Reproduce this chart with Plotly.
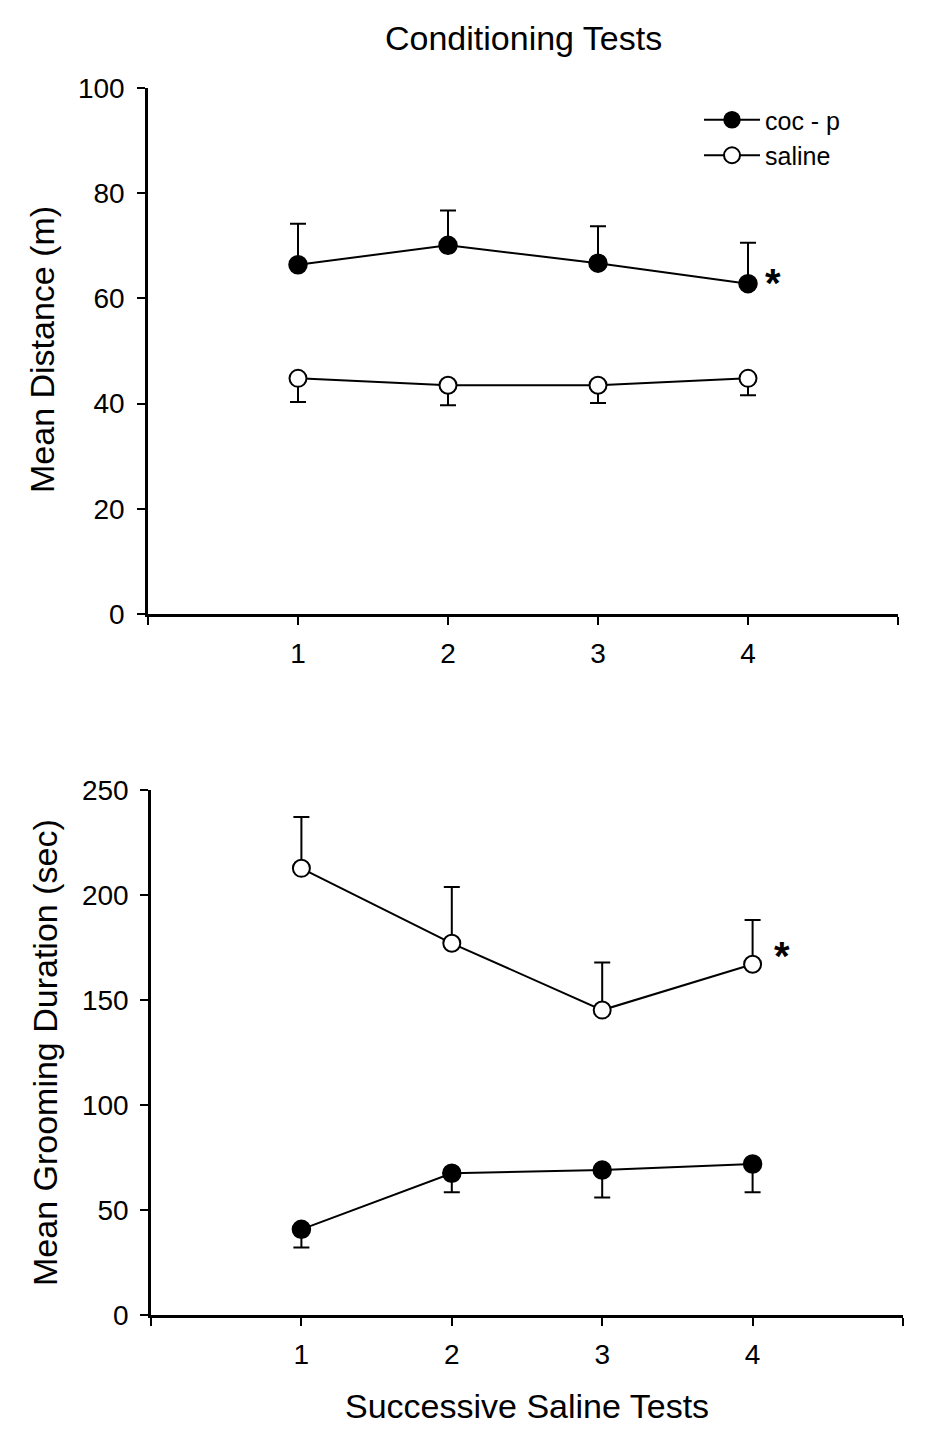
import plotly.graph_objects as go

# ---------------- data ----------------
tests = [1, 2, 3, 4]
x_tickvals = [0, 1, 2, 3, 4, 5]
x_ticktext = ["", "1", "2", "3", "4", ""]

# Top panel: Mean Distance (m)
dist_coc = [66.4, 70.1, 66.7, 62.8]
dist_coc_err = [7.8, 6.6, 7.0, 7.8]        # upward SEM
dist_sal = [44.8, 43.5, 43.5, 44.8]
dist_sal_err = [4.5, 3.8, 3.4, 3.2]        # downward SEM
dist_yticks = [0, 20, 40, 60, 80, 100]

# Bottom panel: Mean Grooming Duration (sec)
groom_sal = [212.7, 177.0, 145.2, 167.0]
groom_sal_err = [24.4, 26.8, 22.6, 21.1]   # upward SEM
groom_coc = [40.8, 67.5, 69.0, 71.9]
groom_coc_err = [8.6, 9.1, 13.1, 13.5]     # downward SEM
groom_yticks = [0, 50, 100, 150, 200, 250]

zeros = [0, 0, 0, 0]

FONT = "Arial, 'Liberation Sans', sans-serif"
W, H = 933, 1448

def px_x(p):
    return p / W

def px_y(p):
    return 1 - p / H

fig = go.Figure()

marker_filled = dict(symbol="circle", size=18, color="black", line=dict(color="black", width=1.5))
marker_open = dict(symbol="circle", size=17, color="white", line=dict(color="black", width=2))
line_style = dict(color="black", width=2)

# top panel
fig.add_trace(go.Scatter(
    x=tests, y=dist_coc, mode="lines+markers", name="coc - p",
    marker=marker_filled, line=line_style, legendgroup="a",
    error_y=dict(type="data", symmetric=False, array=dist_coc_err, arrayminus=zeros,
                 color="black", thickness=2, width=8),
    xaxis="x", yaxis="y"))
fig.add_trace(go.Scatter(
    x=tests, y=dist_sal, mode="lines+markers", name="saline",
    marker=marker_open, line=line_style, legendgroup="b",
    error_y=dict(type="data", symmetric=False, array=zeros, arrayminus=dist_sal_err,
                 color="black", thickness=2, width=8),
    xaxis="x", yaxis="y"))

# bottom panel
fig.add_trace(go.Scatter(
    x=tests, y=groom_sal, mode="lines+markers", name="saline", showlegend=False,
    marker=marker_open, line=line_style,
    error_y=dict(type="data", symmetric=False, array=groom_sal_err, arrayminus=zeros,
                 color="black", thickness=2, width=8),
    xaxis="x2", yaxis="y2"))
fig.add_trace(go.Scatter(
    x=tests, y=groom_coc, mode="lines+markers", name="coc - p", showlegend=False,
    marker=marker_filled, line=line_style,
    error_y=dict(type="data", symmetric=False, array=zeros, arrayminus=groom_coc_err,
                 color="black", thickness=2, width=8),
    xaxis="x2", yaxis="y2"))

axis_common = dict(showline=True, linecolor="black", linewidth=2.5, showgrid=False,
                   zeroline=False, ticks="outside", ticklen=8, tickwidth=2, tickcolor="black",
                   automargin=False,
                   tickfont=dict(family=FONT, size=28, color="black"))

fig.update_layout(
    template="none",
    width=W, height=H,
    margin=dict(l=0, r=0, t=0, b=0, pad=0),
    paper_bgcolor="white", plot_bgcolor="white",
    font=dict(family=FONT, color="black"),
    xaxis=dict(domain=[px_x(148), px_x(898)], range=[0, 5], tickvals=x_tickvals,
               ticktext=x_ticktext, anchor="y", ticklabelstandoff=5, **axis_common),
    yaxis=dict(domain=[px_y(614), px_y(88)], range=[0, 100], tickvals=dist_yticks,
               anchor="x", ticklabelstandoff=7, **axis_common),
    xaxis2=dict(domain=[px_x(151), px_x(903)], range=[0, 5], tickvals=x_tickvals,
                ticktext=x_ticktext, anchor="y2", ticklabelstandoff=5, **axis_common),
    yaxis2=dict(domain=[px_y(1315), px_y(790)], range=[0, 250], tickvals=groom_yticks,
                anchor="x2", ticklabelstandoff=6, **axis_common),
    showlegend=True,
    legend=dict(x=px_x(699), y=px_y(97), xanchor="left", yanchor="top",
                font=dict(family=FONT, size=25, color="black"),
                bgcolor="rgba(0,0,0,0)", borderwidth=0,
                traceorder="grouped", tracegroupgap=0, itemwidth=56),
)

annotations = [
    dict(text="Conditioning Tests", x=px_x(523), y=px_y(38), xref="paper", yref="paper",
         showarrow=False, font=dict(family=FONT, size=34, color="black"),
         xanchor="center", yanchor="middle"),
    dict(text="Mean Distance (m)", x=px_x(42), y=px_y(350), xref="paper", yref="paper",
         showarrow=False, textangle=-90, font=dict(family=FONT, size=34, color="black"),
         xanchor="center", yanchor="middle"),
    dict(text="Mean Grooming Duration (sec)", x=px_x(45), y=px_y(1053), xref="paper", yref="paper",
         showarrow=False, textangle=-90, font=dict(family=FONT, size=34, color="black"),
         xanchor="center", yanchor="middle"),
    dict(text="Successive Saline Tests", x=px_x(527), y=px_y(1406), xref="paper", yref="paper",
         showarrow=False, font=dict(family=FONT, size=34, color="black"),
         xanchor="center", yanchor="middle"),
    dict(text="<b>*</b>", x=tests[3], y=dist_coc[3], xref="x", yref="y",
         showarrow=False, font=dict(family=FONT, size=40, color="black"),
         xanchor="center", yanchor="middle", xshift=25, yshift=1),
    dict(text="<b>*</b>", x=tests[3], y=groom_sal[3], xref="x2", yref="y2",
         showarrow=False, font=dict(family=FONT, size=40, color="black"),
         xanchor="center", yanchor="middle", xshift=29, yshift=8),
]
fig.update_layout(annotations=annotations)

fig.write_html("out.html",
               config={"displayModeBar": False},
               post_script="document.body.style.margin='0';document.body.style.padding='0';")
